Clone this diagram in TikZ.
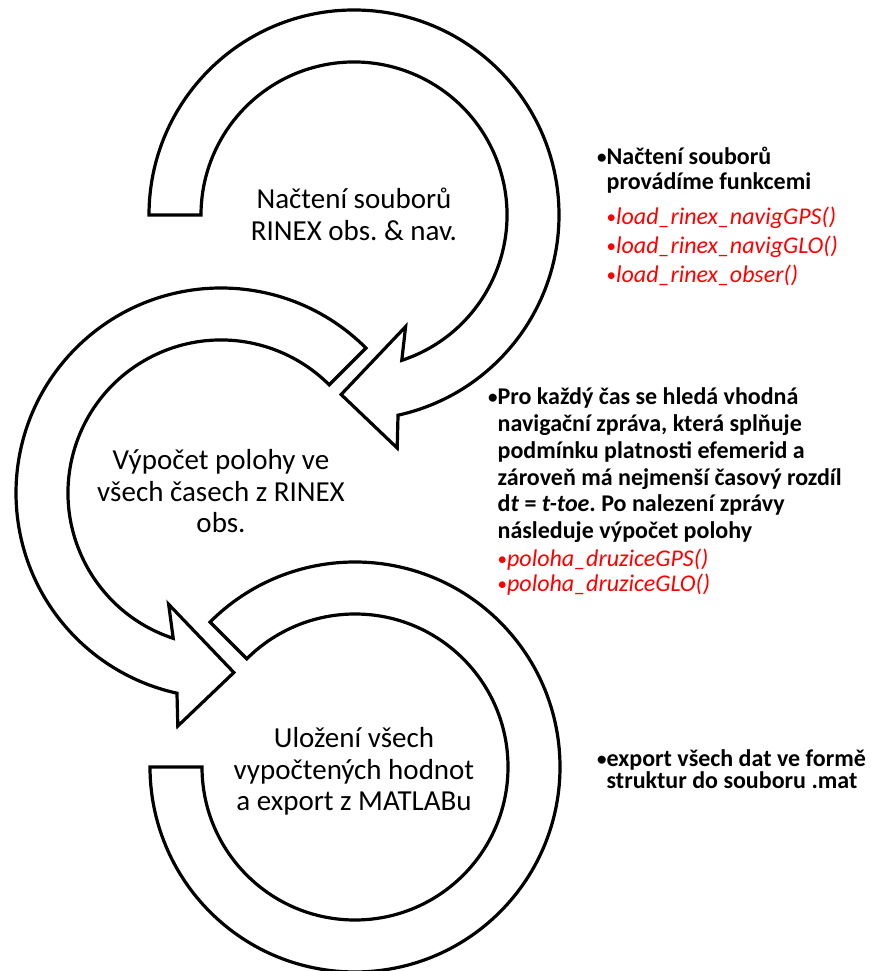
\documentclass[tikz,border=0pt]{standalone}
\usepackage{fontspec}
\setmainfont{Carlito}
\usetikzlibrary{positioning}
\frenchspacing
\newcommand{\bul}{{\fontsize{19}{19}\selectfont\raisebox{1pt}{•}}}
\newcommand{\funcitem}[1]{{\color{red}\mdseries\hang\bul\textit{#1}}}
\newcommand{\hang}{\phantom{\bul}}
\newcommand{\tightlines}{\lineskiplimit=-\maxdimen\relax}

\tikzset{
  ring/.style={draw=black,line width=3.2pt,fill=white,line join=miter},
  steptext/.style={inner sep=0pt,anchor=base,font=\fontsize{29}{31.5}\selectfont},
  note/.style={inner sep=0pt,anchor=base west,font=\fontsize{24}{#1}\selectfont\bfseries},
}

\begin{document}
\begin{tikzpicture}[x=1pt,y=1pt]
    \fill[white] (0,0) rectangle (870,971);
    \useasboundingbox (0,0) rectangle (870,971);
    \coordinate (c1) at (354,756);
    \coordinate (c2) at (221,478);
    \coordinate (c3) at (355,204);

    % last ring, plain ends
    \begin{scope}[shift={(c3)}]
      \draw[ring] (135:205) arc[start angle=135,end angle=-180,radius=205]
        -- (180:153) arc[start angle=-180,end angle=135,radius=153] -- cycle;
    \end{scope}
    % middle ring, turns left
    \begin{scope}[shift={(c2)}]
      \draw[ring] (45:205) arc[start angle=45,end angle=257.6,radius=205]
        -- (259.5:237) -- (274.1:180) -- (244.8:123) -- (251.8:153)
        arc[start angle=251.8,end angle=45,radius=153] -- cycle;
    \end{scope}
    % top ring, turns right
    \begin{scope}[shift={(c1)}]
      \draw[ring] (180:205) arc[start angle=180,end angle=-77.6,radius=205]
        -- (-79.5:237) -- (-94.1:180) -- (-65.2:123) -- (-71.8:153)
        arc[start angle=-71.8,end angle=180,radius=153] -- cycle;
    \end{scope}

    \node[steptext] (nacteni) at (354,762)
      {\parbox[t]{260pt}{\tightlines\centering Načtení souborů\\RINEX obs. \& nav.}};
    \node[steptext] (vypocet) at (221,501)
      {\parbox[t]{260pt}{\tightlines\centering Výpočet polohy ve\\všech časech z RINEX\\obs.}};
    \node[steptext] (ulozeni) at (354,223)
      {\parbox[t]{280pt}{\tightlines\centering Uložení všech\\vypočtených hodnot\\a export z MATLABu}};

    \node[note=25] (noteload) at (597,806) {\parbox[t]{270pt}{\tightlines
      \bul Načtení souborů\\
      \hang provádíme funkcemi\\[9.3pt]
      \funcitem{load\_rinex\_navigGPS()}\\[4.2pt]
      \funcitem{load\_rinex\_navigGLO()}\\[4.2pt]
      \funcitem{load\_rinex\_obser()}}};
    \node[note=26.7] (notepoloha) at (488,566) {\parbox[t]{380pt}{\tightlines
      \bul Pro každý čas se hledá vhodná\\
      \hang navigační zpráva, která splňuje\\
      \hang podmínku platnosti efemerid a\\
      \hang zároveň má nejmenší časový rozdíl\\
      \hang d\textit{t} = \textit{t-toe}. Po nalezení zprávy\\
      \hang následuje výpočet polohy\\[1.8pt]
      \funcitem{poloha\_druziceGPS()}\\[-1.7pt]
      \funcitem{poloha\_druziceGLO()}}};
    \node[note=22] (noteexport) at (597,204) {\parbox[t]{270pt}{\tightlines
      \bul export všech dat ve formě\\
      \hang struktur do souboru .mat}};
\end{tikzpicture}
\end{document}
